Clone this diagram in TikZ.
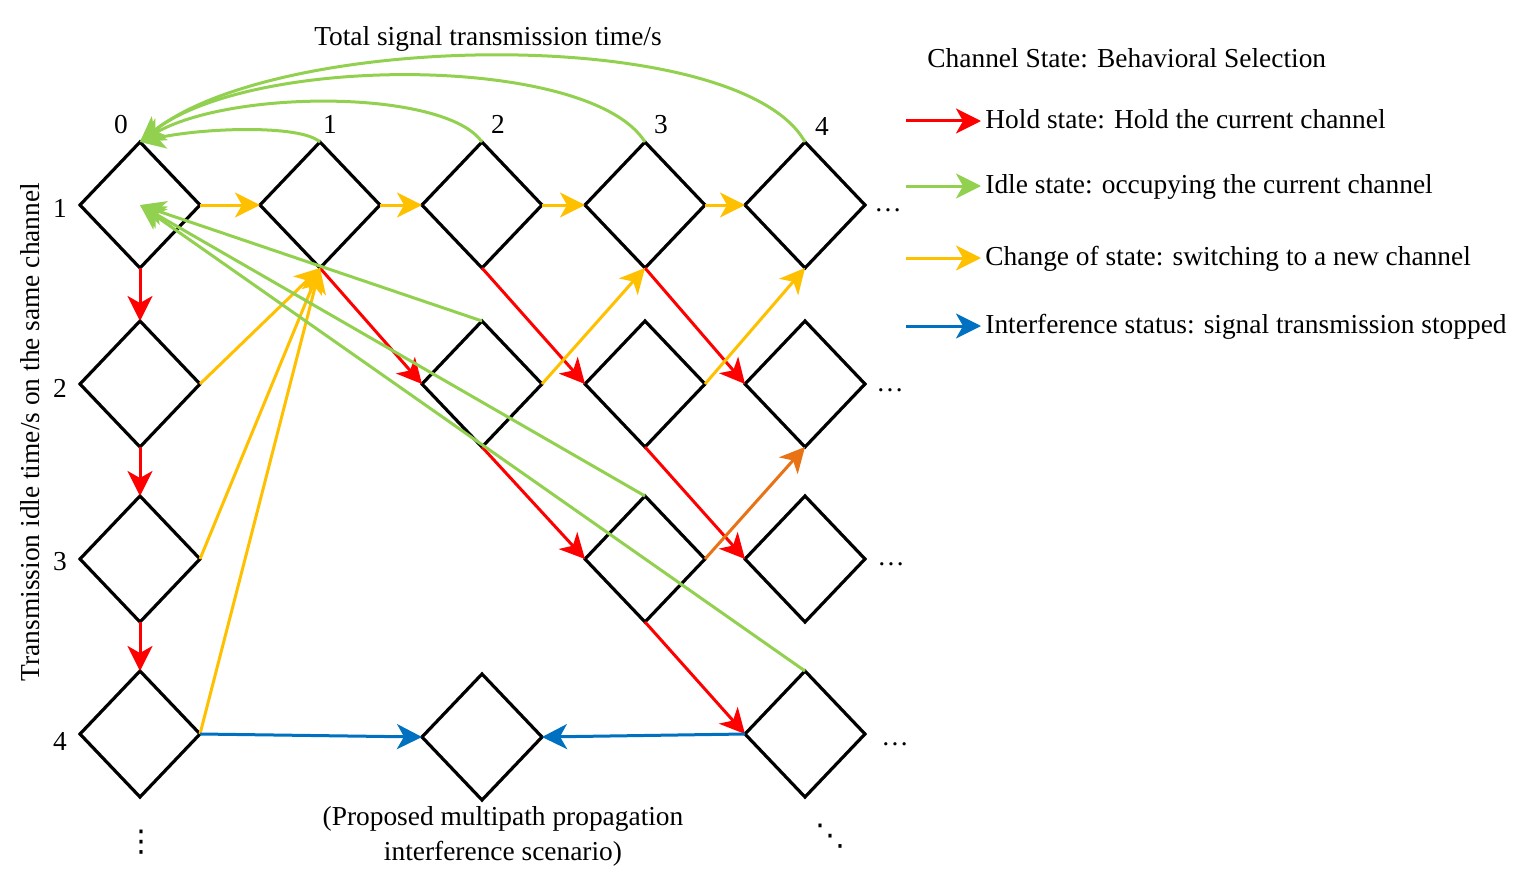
\documentclass[tikz,border=0pt]{standalone}
\usepackage{amsmath}
\usepackage{fontspec}
\setmainfont{Liberation Serif}
\newfontfamily\dotsfont{DejaVu Sans}
\usetikzlibrary{shapes.geometric,arrows.meta,positioning}
\definecolor{holdred}{RGB}{255,0,0}
\definecolor{idlegreen}{RGB}{146,208,80}
\definecolor{changeyellow}{RGB}{255,192,0}
\definecolor{switchorange}{RGB}{232,114,20}
\definecolor{jamblue}{RGB}{0,112,192}

\begin{document}
\begin{tikzpicture}[
    x=0.5pt, y=-0.5pt,
    on grid,
    font=\fontsize{13.7}{16}\selectfont,
    cell/.style={diamond, draw, line width=1.6pt, minimum width=60pt,
        minimum height=63pt, inner sep=0pt, outer sep=0pt},
    link/.style={line width=1.5pt, -{Stealth[length=12.5pt,width=12.5pt,inset=3.5pt]}},
    hold/.style={link, holdred},
    idle/.style={link, idlegreen},
    change/.style={link, changeyellow},
    turn/.style={link, switchorange},
    jam/.style={link, jamblue},
    legend/.style={anchor=west, inner xsep=2pt, text height=0.95em, text depth=0.2em}]
    \useasboundingbox (0,0) rectangle (1521,872);

       \node[cell] (r1c0) at (140,205) {};
       \node[cell] (r1c1) [right=90pt of r1c0] {};
       \node[cell] (r1c2) [right=81pt of r1c1] {};
       \node[cell] (r1c3) [right=81.5pt of r1c2] {};
       \node[cell] (r1c4) [right=80pt of r1c3] {};
       \node[cell] (r2c0) [below=89.5pt of r1c0] {};
       \node[cell] (r3c0) [below=87.5pt of r2c0] {};
       \node[cell] (r4c0) [below=87.5pt of r3c0] {};
       \node[cell] (r2c2) [below=89.5pt of r1c2] {};
       \node[cell] (r4c2) [below=176.5pt of r2c2] {};
       \node[cell] (r2c3) [below=89.5pt of r1c3] {};
       \node[cell] (r3c3) [below=87.5pt of r2c3] {};
       \node[cell] (r2c4) [below=89.5pt of r1c4] {};
       \node[cell] (r3c4) [below=87.5pt of r2c4] {};
       \node[cell] (r4c4) [below=87.5pt of r3c4] {};

       \node (top) at (488,39) {Total signal transmission time/s};
       \node (t0) at (121,125) {0};
       \node (t1) at (330,124) {1};
       \node (t2) at (498,124) {2};
       \node (t3) at (661,125) {3};
       \node (t4) at (822,126) {4};
       \node (n1) at (60,208) {1};
       \node (n2) at (60,388) {2};
       \node (n3) at (60,562) {3};
       \node (n4) at (60,741) {4};
       \node[rotate=90] (side) at (30,432) {Transmission idle time/s on the same channel};
       \node (e1) at (888,210) {\ldots};
       \node (e2) at (890,390) {\ldots};
       \node (e3) at (891,564) {\ldots};
       \node (e4) at (895,744) {\ldots};
       \node[font=\dotsfont\fontsize{15}{16}\selectfont] (vd) at (141,842) {⋮};
       \node[font=\dotsfont\fontsize{15}{16}\selectfont] (dd) at (830,836) {⋱};
       \node[align=center, font=\fontsize{13.7}{17.5}\selectfont] (note) at (503,836)
           {(Proposed multipath propagation\\interference scenario)};

        \path[hold]
        (r1c0) edge (r2c0)
        (r2c0) edge (r3c0)
        (r3c0) edge (r4c0)
        (r1c1.south) edge (r2c2.west)
        (r1c2.south) edge (r2c3.west)
        (r1c3.south) edge (r2c4.west)
        (r2c2.south) edge (r3c3.west)
        (r2c3.south) edge (r3c4.west)
        (r3c3.south) edge (r4c4.west)
        ;
        \path[change]
        (r1c0.east) edge (r1c1.west)
        (r1c1.east) edge (r1c2.west)
        (r1c2.east) edge (r1c3.west)
        (r1c3.east) edge (r1c4.west)
        (r2c0.east) edge (r1c1.south)
        (r3c0.east) edge (r1c1.south)
        (r4c0.east) edge (r1c1.south)
        (r2c2.east) edge (r1c3.south)
        (r2c3.east) edge (r1c4.south)
        ;
        \path[turn]
        (r3c3.east) edge (r2c4.south)
        ;
        \path[idle]
        (r2c2.north) edge (r1c0.center)
        (r3c3.north) edge (r1c0.center)
        (r4c4.north) edge (r1c0.center)
        ;
        \draw[idle] (r1c1.north) .. controls (300,124) and (200,128) .. (r1c0.north);
        \draw[idle] (r1c2.north) .. controls (445,89) and (230,89) .. (r1c0.north);
        \draw[idle] (r1c3.north) .. controls (590,54) and (250,54) .. (r1c0.north);
        \draw[idle] (r1c4.north) .. controls (740,25) and (280,30) .. (r1c0.north);
        \path[jam]
        (r4c0.east) edge (r4c2.west)
        (r4c4.west) edge (r4c2.east)
        ;

       \node[legend] (title) at (923,60) {Channel State: Behavioral Selection};
       \node[legend] (lhold) at (981,121) {Hold state: Hold the current channel};
       \node[legend] (lidle) at (981,186) {Idle state: occupying the current channel};
       \node[legend] (lchange) at (981,258) {Change of state: switching to a new channel};
       \node[legend] (ljam) at (981,326) {Interference status: signal transmission stopped};
       \coordinate (hold_tail) at (906,121);
       \coordinate (idle_tail) at (906,186);
       \coordinate (change_tail) at (906,258);
       \coordinate (jam_tail) at (906,326);
        \path
        (hold_tail) edge[hold] (lhold.west)
        (idle_tail) edge[idle] (lidle.west)
        (change_tail) edge[change] (lchange.west)
        (jam_tail) edge[jam] (ljam.west)
        ;
    \end{tikzpicture}
\end{document}
